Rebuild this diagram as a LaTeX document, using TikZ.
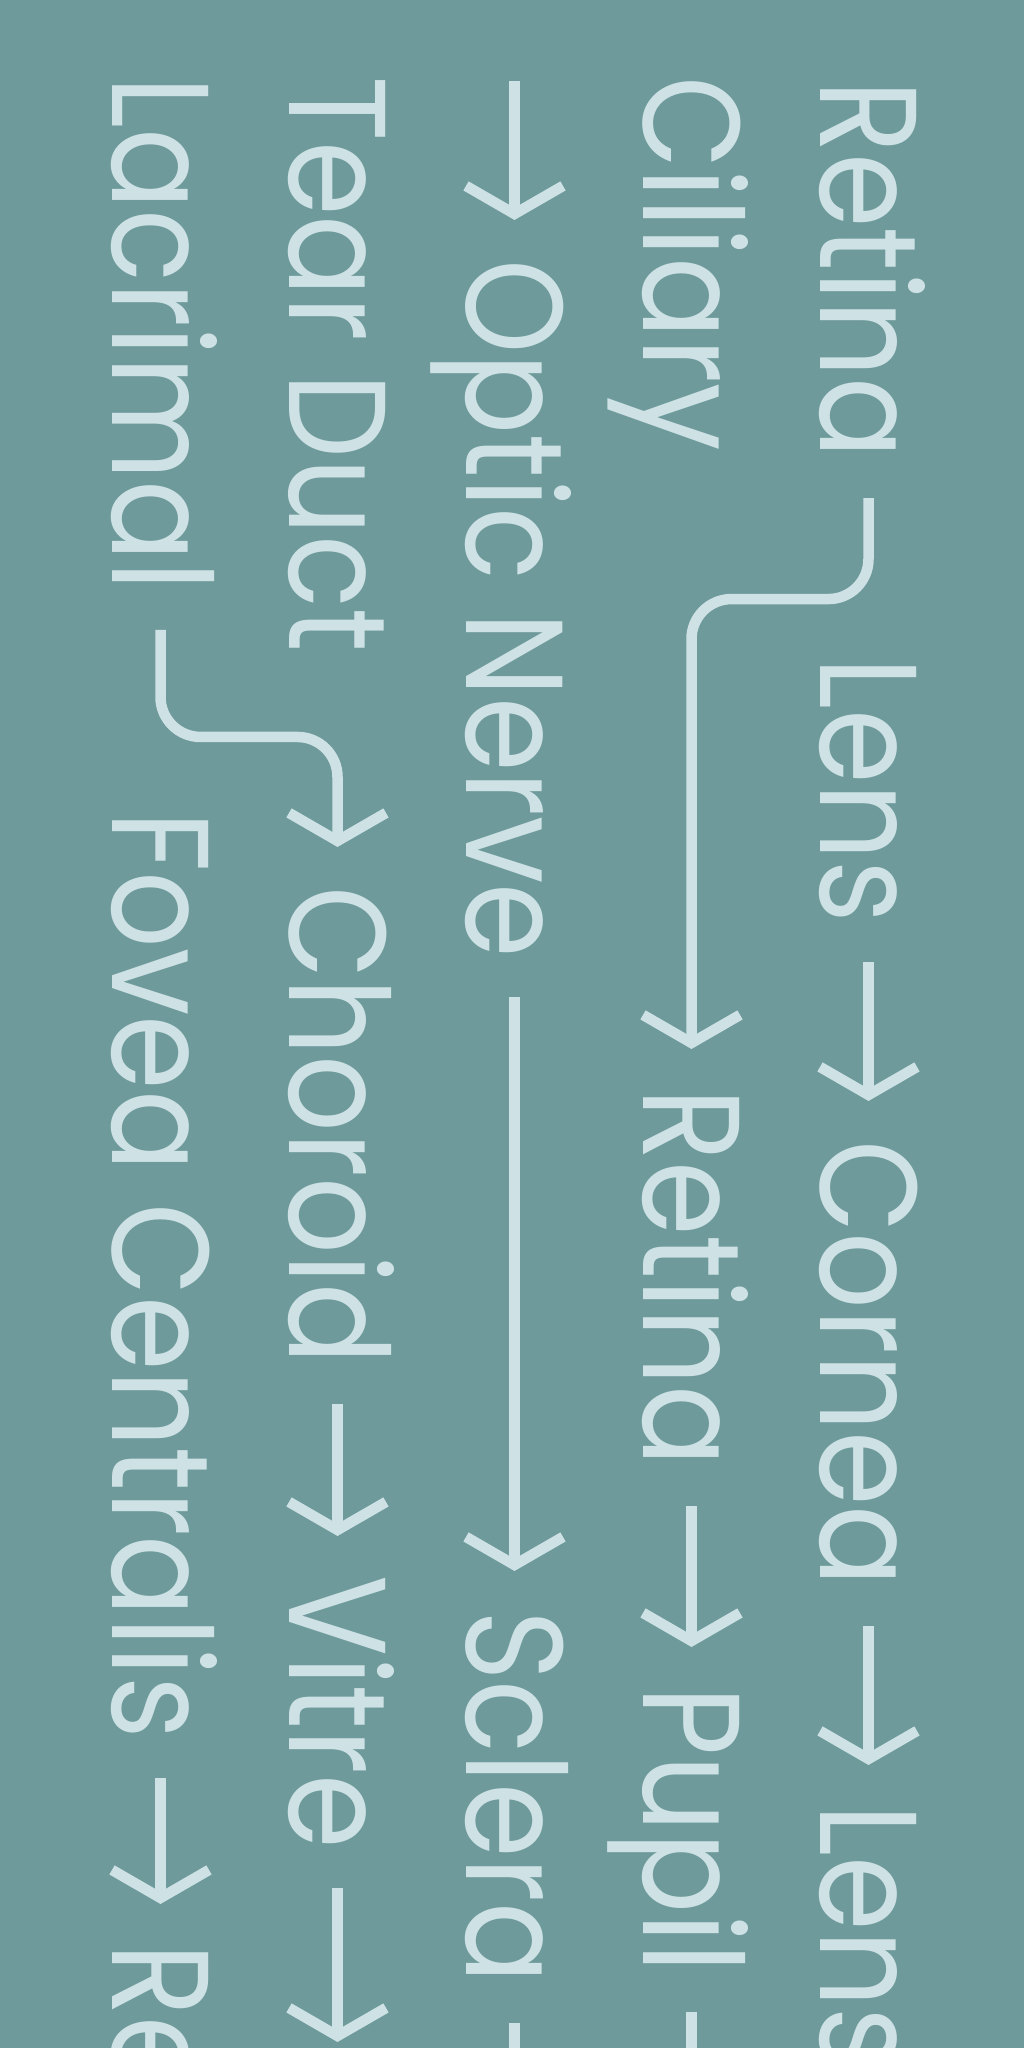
\documentclass[tikz,border=0pt]{standalone}
\usepackage{fontspec}
\usepackage{tikz}
\usetikzlibrary{arrows.meta}
\newfontfamily\eyefont{Poppins}[FakeStretch=0.87]
\definecolor{teal bg}{HTML}{6E9A9B}
\definecolor{pale ink}{HTML}{CEE2E5}
\tikzset{
    x=1pt, y=1pt, % one unit is one pixel of the page
    part/.style={anchor=base west, inner sep=0pt, text=pale ink, font=\eyefont\fontsize{138pt}{160pt}\selectfont, text height=97pt, text depth=0pt}, % every word of the chain
    flow/.style={draw=pale ink, line width=10.5pt, -{Straight Barb[length=28pt, width=97pt, sharp]}, shorten <=39pt, shorten >=39pt}, % arrows between the words
    turn/.style={flow, rounded corners=40pt}, % the bent arrows that change column
}

\begin{document}
\begin{tikzpicture}
\fill[teal bg] (0,0) rectangle (1024,2048);
\clip (0,0) rectangle (1024,2048);
\begin{scope}[shift={(0,2048)}, rotate=-90, transform shape]
    % first column
    \node[part] (retinaA) at (80,820) {Retina};
    \node[part] (lensA) at (657,820) {Lens};
    \node[part] (corneaA) at (1140,820) {Cornea};
    \node[part] (lensB) at (1804,820) {Lens};
    % second column
    \node[part] (ciliary) at (76,643) {Ciliary};
    \node[part] (retinaB) at (1088,643) {Retina};
    \node[part] (pupil) at (1686,643) {Pupil};
    % third column
    \coordinate (opticin) at (81,514.5);
    \node[part] (optic) at (259,466) {Optic Nerve};
    \node[part] (sclera) at (1610,466) {Sclera};
    % fourth column
    \node[part] (tear) at (76,289) {Tear Duct};
    \node[part] (choroid) at (886,289) {Choroid};
    \node[part] (vitre) at (1575,289) {Vitre};
    % fifth column
    \node[part] (lacrimal) at (76,112) {Lacrimal};
    \node[part] (fovea) at (811,112) {Fovea Centralis};
    \node[part] (retinaC) at (1943,112) {Re};
    % off the page
    \coordinate (pupilout) at (2300,691.5);
    \coordinate (scleraout) at (2300,514.5);
    \coordinate (vitreout) at (2042,337.5);

    \draw[flow] (lensA) -- (corneaA);
    \draw[flow] (corneaA) -- (lensB);
    \draw[flow] (retinaB) -- (pupil);
    \draw[flow] (pupil) -- (pupilout);
    \draw[flow, shorten <=0pt] (opticin) -- (optic);
    \draw[flow] (optic) -- (sclera);
    \draw[flow] (sclera) -- (scleraout);
    \draw[flow] (choroid) -- (vitre);
    \draw[flow, shorten >=0pt] (vitre) -- (vitreout);
    \draw[flow] (fovea) -- (retinaC);
    \draw[turn] (retinaA.east) -- ++(140,0) |- (retinaB.west);
    \draw[turn] (lacrimal.east) -- ++(146,0) |- (choroid.west);
\end{scope}
\end{tikzpicture}
\end{document}
